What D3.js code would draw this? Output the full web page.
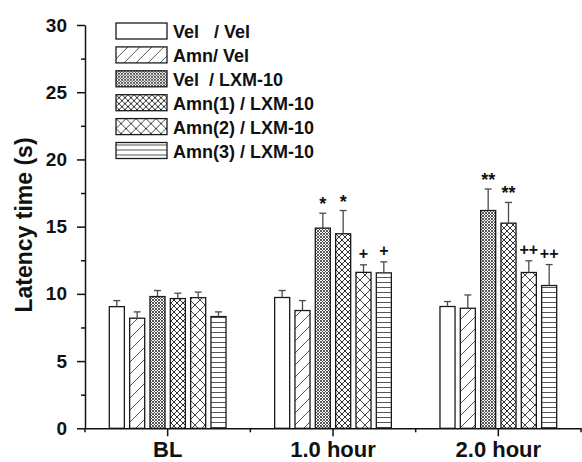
<!DOCTYPE html>
<html>
<head>
<meta charset="utf-8">
<script src="https://cdn.jsdelivr.net/npm/d3@7"></script>
<style>
  body { margin: 0; background: #fff; }
  svg { font-family: "Liberation Sans", Arial, sans-serif; }
</style>
</head>
<body>
<script>
// data
const categories = ['BL', '1.0 hour', '2.0 hour'];
const groups = ['Vel   / Vel', 'Amn/ Vel', 'Vel  / LXM-10', 'Amn(1) / LXM-10', 'Amn(2) / LXM-10', 'Amn(3) / LXM-10'];
// means per group, one value per category
const velVel   = [9.05, 9.73, 9.06];
const amnVel   = [8.19, 8.76, 8.93];
const velLxm   = [9.80, 14.89, 16.20];
const amn1Lxm  = [9.65, 14.47, 15.26];
const amn2Lxm  = [9.72, 11.60, 11.59];
const amn3Lxm  = [8.31, 11.56, 10.62];
// upper error (SEM)
const velVelErr  = [0.45, 0.52, 0.37];
const amnVelErr  = [0.47, 0.74, 0.99];
const velLxmErr  = [0.45, 1.11, 1.60];
const amn1LxmErr = [0.40, 1.73, 1.54];
const amn2LxmErr = [0.41, 0.56, 0.87];
const amn3LxmErr = [0.35, 0.82, 1.56];
// significance marks ('' = none)
const marks = [
  ['', '', ''],
  ['', '', ''],
  ['', '*', '**'],
  ['', '*', '**'],
  ['', '+', '++'],
  ['', '+', '++']
];
const yTicks = [0, 5, 10, 15, 20, 25, 30];
const yMinorTicks = [2.5, 7.5, 12.5, 17.5, 22.5, 27.5];

const means = [velVel, amnVel, velLxm, amn1Lxm, amn2Lxm, amn3Lxm];
const errs = [velVelErr, amnVelErr, velLxmErr, amn1LxmErr, amn2LxmErr, amn3LxmErr];

let rows = [];
groups.forEach(function (g, gi) {
  categories.forEach(function (c, ci) {
    rows.push({group: g, gi: gi, cat: c, v: means[gi][ci], e: errs[gi][ci], mark: marks[gi][ci]});
  });
});

const width = 582, height = 462;
const svg = d3.select('body').append('svg')
  .attr('width', width)
  .attr('height', height);

// fill patterns
const defs = svg.append('defs');
function pat(id, size) {
  return defs.append('pattern')
    .attr('id', id)
    .attr('patternUnits', 'userSpaceOnUse')
    .attr('width', size)
    .attr('height', size);
}
function line(p, x1, y1, x2, y2, col, w) {
  p.append('line').attr('x1', x1).attr('y1', y1).attr('x2', x2).attr('y2', y2)
    .attr('stroke', col).attr('stroke-width', w);
}
let p;
p = pat('p0', 10);
p.append('rect').attr('width', 10).attr('height', 10).attr('fill', '#fff');

p = pat('p1', 12);
p.append('rect').attr('width', 12).attr('height', 12).attr('fill', '#fff');
line(p, -1, 13, 13, -1, '#555', 1);
line(p, -7, 7, 7, -7, '#555', 1);
line(p, 5, 19, 19, 5, '#555', 1);

p = pat('p2', 3);
p.append('rect').attr('width', 3).attr('height', 3).attr('fill', '#fff');
line(p, 0, 3, 3, 0, '#444', 0.9);
line(p, 0, 0, 3, 3, '#444', 0.9);

p = pat('p3', 6);
p.append('rect').attr('width', 6).attr('height', 6).attr('fill', '#fff');
line(p, 0, 6, 6, 0, '#333', 1);
line(p, 0, 0, 6, 6, '#333', 1);

p = pat('p4', 10);
p.append('rect').attr('width', 10).attr('height', 10).attr('fill', '#fff');
line(p, 0, 10, 10, 0, '#444', 1);
line(p, 0, 0, 10, 10, '#444', 1);

p = pat('p5', 5);
p.append('rect').attr('width', 5).attr('height', 5).attr('fill', '#fff');
line(p, 0, 2.5, 5, 2.5, '#555', 1);

const fills = ['url(#p0)', 'url(#p1)', 'url(#p2)', 'url(#p3)', 'url(#p4)', 'url(#p5)'];

// scales
const x0 = d3.scaleBand()
  .domain(categories)
  .range([85, 581]);

const x1 = d3.scaleBand()
  .domain(groups)
  .range([-61, 61])
  .paddingInner(0.26)
  .paddingOuter(0.13);

const y = d3.scaleLinear()
  .domain([0, 30])
  .range([428.3, 25]);

// bars
const bars = svg.append('g');
bars.selectAll('rect')
  .data(rows)
  .enter()
  .append('rect')
  .attr('x', function (d) { return x0(d.cat) + x0.bandwidth() / 2 + x1(d.group); })
  .attr('y', function (d) { return y(d.v); })
  .attr('width', x1.bandwidth())
  .attr('height', function (d) { return y(0) - y(d.v); })
  .attr('fill', function (d) { return fills[d.gi]; })
  .attr('stroke', '#1a1a1a')
  .attr('stroke-width', 1.3);

// error bars (upper only)
const errG = svg.append('g').attr('stroke', '#4a4a4a').attr('stroke-width', 1.3);
function cx(d) { return x0(d.cat) + x0.bandwidth() / 2 + x1(d.group) + x1.bandwidth() / 2; }
errG.selectAll('.eb')
  .data(rows)
  .enter()
  .append('line')
  .attr('x1', cx).attr('x2', cx)
  .attr('y1', function (d) { return y(d.v); })
  .attr('y2', function (d) { return y(d.v + d.e); });
errG.selectAll('.cap')
  .data(rows)
  .enter()
  .append('line')
  .attr('x1', function (d) { return cx(d) - 3.5; })
  .attr('x2', function (d) { return cx(d) + 3.5; })
  .attr('y1', function (d) { return y(d.v + d.e); })
  .attr('y2', function (d) { return y(d.v + d.e); });

// significance marks
svg.append('g').selectAll('text')
  .data(rows.filter(function (d) { return d.mark !== ''; }))
  .enter()
  .append('text')
  .attr('x', cx)
  .attr('y', function (d) { return y(d.v + d.e) - (d.mark[0] === '*' ? 3 : 6); })
  .attr('text-anchor', 'middle')
  .attr('font-size', function (d) { return d.mark[0] === '*' ? 18 : 16; })
  .attr('font-weight', 'bold')
  .attr('fill', '#111')
  .text(function (d) { return d.mark; });

// y axis
const yAxis = d3.axisLeft(y)
  .tickValues(yTicks)
  .tickSize(8)
  .tickSizeOuter(0)
  .tickPadding(10);
const yg = svg.append('g')
  .attr('transform', 'translate(85,0)')
  .call(yAxis);
yg.selectAll('text').attr('font-size', 19).attr('font-weight', 'bold').attr('fill', '#111').attr('font-family', null);
yg.selectAll('line,path').attr('stroke', '#111').attr('stroke-width', 1.5);

svg.append('g')
  .attr('transform', 'translate(85,0)')
  .call(d3.axisLeft(y).tickValues(yMinorTicks).tickSize(4).tickFormat('').tickSizeOuter(0))
  .call(function (g) { g.select('.domain').remove(); })
  .selectAll('line').attr('stroke', '#111').attr('stroke-width', 1.5);

// x axis
const xAxis = d3.axisBottom(x0)
  .tickSize(8)
  .tickSizeOuter(0)
  .tickPadding(5);
const xg = svg.append('g')
  .attr('transform', 'translate(0,' + y(0) + ')')
  .call(xAxis);
xg.selectAll('text').attr('font-size', 22).attr('font-weight', 'bold').attr('fill', '#111').attr('font-family', null);
xg.selectAll('line,path').attr('stroke', '#111').attr('stroke-width', 1.5);

// minor x ticks at band edges
const edges = categories.map(function (c) { return x0(c); }).concat([x0.range()[1]]);
svg.append('g').selectAll('line')
  .data(edges)
  .enter()
  .append('line')
  .attr('x1', function (d) { return d; })
  .attr('x2', function (d) { return d; })
  .attr('y1', y(0))
  .attr('y2', y(0) + 4)
  .attr('stroke', '#111')
  .attr('stroke-width', 1.5);

// y title
svg.append('text')
  .attr('transform', 'translate(32,225) rotate(-90)')
  .attr('text-anchor', 'middle')
  .attr('font-size', 23)
  .attr('font-weight', 'bold')
  .attr('fill', '#111')
  .text('Latency time (s)');

// legend
const legend = svg.append('g').attr('transform', 'translate(116,23)');
const items = legend.selectAll('g')
  .data(groups)
  .enter()
  .append('g')
  .attr('transform', function (d, i) { return 'translate(0,' + (i * 23.9) + ')'; });
items.append('rect')
  .attr('width', 51)
  .attr('height', 16)
  .attr('fill', function (d, i) { return fills[i]; })
  .attr('stroke', '#1a1a1a')
  .attr('stroke-width', 1.3);
items.append('text')
  .attr('x', 57)
  .attr('y', 15)
  .attr('font-size', 18)
  .attr('font-weight', 'bold')
  .attr('fill', '#111')
  .style('white-space', 'pre')
  .text(function (d) { return d; });
</script>
</body>
</html>
